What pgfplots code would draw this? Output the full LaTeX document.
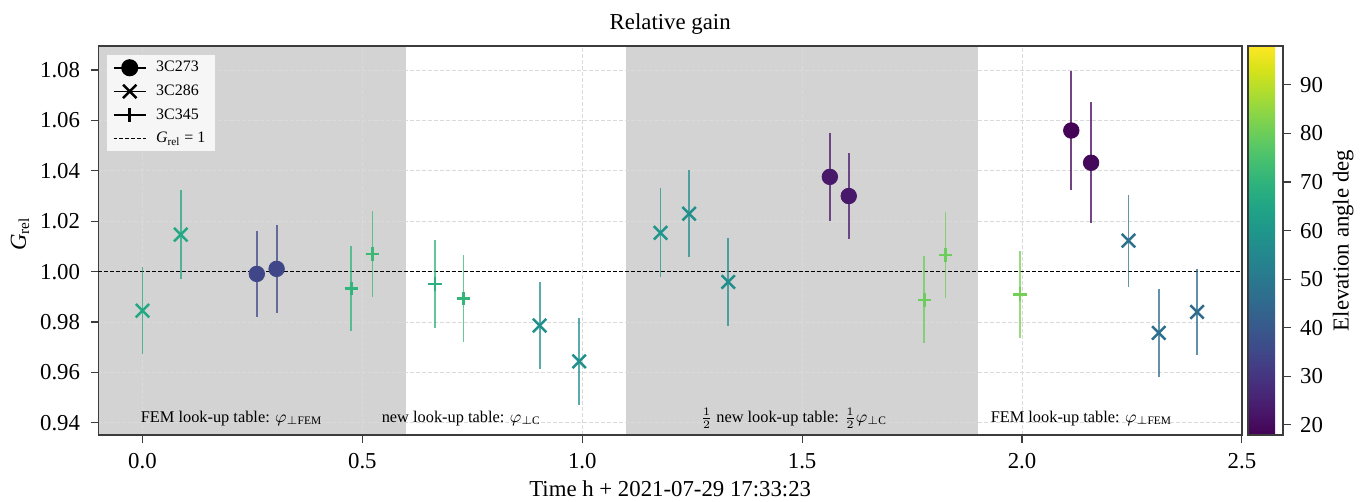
\documentclass[border=0pt]{standalone}
\usepackage{fontspec}
\setmainfont{Liberation Serif}
\usepackage{pgfplots}
\pgfplotsset{compat=1.18}
\definecolor{shade}{RGB}{211,211,211}
\definecolor{gridc}{RGB}{218,218,218}
\definecolor{legfill}{RGB}{246,246,246}
\definecolor{axc}{RGB}{60,60,60}
\pgfplotsset{
  /pgf/number format/assume math mode=true,
  mC/.style={mark=*, mark size=4.1pt, mark options={solid}},
  mX/.style={mark=x, mark size=5.0pt, mark options={solid, line width=1.3pt}},
  mP/.style={mark=+, mark size=3.6pt, mark options={solid, line width=1.3pt}},
}
\newcommand{\datapt}[5]{%
  \pgfmathsetmacro\cv{(#5-17.9)/80.1*1000}%
  \edef\tmp{\noexpand\addplot[forget plot, only marks, color of colormap=\cv, #1,
    error bars/.cd, y dir=both, y explicit, error mark=none,
    error bar style={line width=1pt, opacity=0.75, solid}]
    coordinates {(#2,#3) +- (0,#4)};}%
  \tmp}
\begin{document}
\begin{tikzpicture}
\begin{axis}[
  name=main,
  set layers,
  scale only axis,
  width=601.8pt, height=204.7pt,
  xmin=-0.1, xmax=2.5, ymin=0.9352, ymax=1.0895,
  enlargelimits=false,
  colormap/viridis,
  point meta min=17.9, point meta max=98,
  xtick={0,0.5,1,1.5,2,2.5},
  ytick={0.94,0.96,0.98,1.00,1.02,1.04,1.06,1.08},
  xticklabel style={/pgf/number format/fixed, /pgf/number format/fixed zerofill, /pgf/number format/precision=1, yshift=-2pt},
  yticklabel style={/pgf/number format/fixed, /pgf/number format/fixed zerofill, /pgf/number format/precision=2, xshift=-2pt},
  tick label style={font=\fontsize{12}{14.4}\selectfont},
  xtick pos=left, ytick pos=left,
  tick align=outside,
  major tick length=4.2pt,
  tick style={axc, line width=0.6pt},
  axis line style={axc, line width=0.7pt},
  grid=major,
  grid style={gridc, line width=0.45pt, dash pattern=on 2.1pt off 1.05pt},
  title={Relative gain},
  title style={font=\fontsize{12}{14.4}\selectfont, yshift=-3.5pt},
  xlabel={Time h + 2021-07-29 17:33:23},
  every axis x label/.style={at={(axis description cs:0.5,0)}, anchor=base, yshift=-32.6pt, font=\fontsize{12}{14.4}\selectfont},
  ylabel={\textit{G}\textsubscript{rel}},
  every axis y label/.style={at={(axis description cs:0,0.5)}, xshift=-41.3pt, yshift=3.5pt, rotate=90, anchor=center, font=\fontsize{12}{14.4}\selectfont},
  legend cell align=left,
  legend style={at={(0,1)}, anchor=north west, xshift=4.3pt, yshift=-4.7pt,
    fill=legfill, draw=none, font=\fontsize{8.4}{10}\selectfont, row sep=1.4pt, column sep=3pt,
    inner ysep=1pt},
  colorbar,
  colorbar style={
    width=18.4pt,
    at={(parent axis.north east)}, anchor=north west, xshift=-5.3pt,
    ytick={20,30,40,50,60,70,80,90},
    ytick pos=right, yticklabel pos=right,
    tick align=outside, major tick length=4.2pt,
    tick style={axc, line width=0.6pt},
    axis line style={axc, line width=0.7pt},
    tick label style={font=\fontsize{12}{14.4}\selectfont},
    yticklabel style={xshift=1.3pt},
    ylabel={Elevation angle deg},
    every axis y label/.style={at={(axis description cs:1,0.5)}, xshift=31.6pt, rotate=90, anchor=center, font=\fontsize{12}{14.4}\selectfont},
  },
]
% shaded regions
\addplot[forget plot, on layer=axis background, fill=shade, draw=none]
  coordinates {(-0.1,0.9352) (0.6,0.9352) (0.6,1.0895) (-0.1,1.0895)} -- cycle;
\addplot[forget plot, on layer=axis background, fill=shade, draw=none]
  coordinates {(1.1,0.9352) (1.9,0.9352) (1.9,1.0895) (1.1,1.0895)} -- cycle;
% reference line
\addplot[forget plot, black, line width=0.55pt, dash pattern=on 2.1pt off 1.05pt]
  coordinates {(-0.1,1) (2.5,1)};

% 3C286 (x): x, G, err, elevation
\datapt{mX}{0.000}{0.9845}{0.0173}{66}
\datapt{mX}{0.087}{1.0147}{0.0177}{66}
\datapt{mX}{0.903}{0.9786}{0.0172}{58}
\datapt{mX}{0.993}{0.9644}{0.0172}{58}
\datapt{mX}{1.178}{1.0154}{0.0176}{60}
\datapt{mX}{1.243}{1.0230}{0.0172}{58}
\datapt{mX}{1.332}{0.9959}{0.0175}{57}
\datapt{mX}{2.242}{1.0123}{0.0183}{47.5}
\datapt{mX}{2.311}{0.9757}{0.0175}{47}
\datapt{mX}{2.398}{0.9840}{0.0171}{45.5}
% 3C273 (circles)
\datapt{mC}{0.260}{0.9991}{0.0170}{35}
\datapt{mC}{0.305}{1.0011}{0.0175}{35}
\datapt{mC}{1.563}{1.0376}{0.0175}{23}
\datapt{mC}{1.606}{1.0300}{0.0172}{23}
\datapt{mC}{2.112}{1.0560}{0.0237}{18.5}
\datapt{mC}{2.157}{1.0432}{0.0240}{19.5}
% 3C345 (plus)
\datapt{mP}{0.475}{0.9933}{0.0170}{70}
\datapt{mP}{0.523}{1.0071}{0.0170}{72}
\datapt{mP}{0.665}{0.9952}{0.0175}{69}
\datapt{mP}{0.730}{0.9893}{0.0172}{71}
\datapt{mP}{1.778}{0.9888}{0.0173}{80}
\datapt{mP}{1.826}{1.0065}{0.0170}{80}
\datapt{mP}{1.995}{0.9910}{0.0173}{81}

\addlegendimage{black, line width=0.8pt, mC}
\addlegendentry{3C273}
\addlegendimage{black, line width=0.8pt, mX}
\addlegendentry{3C286}
\addlegendimage{black, line width=0.8pt, mP}
\addlegendentry{3C345}
\addlegendimage{black, line width=0.55pt, dash pattern=on 2.1pt off 1.05pt}
\addlegendentry{\textit{G}\textsubscript{rel} = 1}

\node[anchor=base, font=\fontsize{8.6}{10}\selectfont] at (axis cs:0.2025,0.94) {FEM look-up table: $\varphi_{\perp\mathrm{FEM}}$};
\node[anchor=base, font=\fontsize{8.6}{10}\selectfont] at (axis cs:0.725,0.94) {new look-up table: $\varphi_{\perp\mathrm{C}}$};
\node[anchor=base, font=\fontsize{8.6}{10}\selectfont] at (axis cs:1.481,0.94) {$\frac{1}{2}$ new look-up table: $\frac{1}{2}\varphi_{\perp\mathrm{C}}$};
\node[anchor=base, font=\fontsize{8.6}{10}\selectfont] at (axis cs:2.135,0.94) {FEM look-up table: $\varphi_{\perp\mathrm{FEM}}$};
\end{axis}
\pgfresetboundingbox
\path[use as bounding box] (main.south west) ++(-51.84pt,-35.26pt) rectangle ++(720pt,264.2pt);
\end{tikzpicture}
\end{document}
